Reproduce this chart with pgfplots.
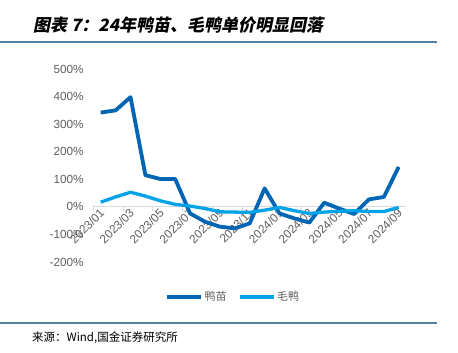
\documentclass[border=0pt]{standalone}
\usepackage{pgfplots}
\pgfplotsset{compat=1.18}
\usepackage{fontspec}
\setmainfont{Liberation Sans}
\newfontfamily\cjk{Noto Sans CJK SC}
\newfontfamily\cjkt[FakeSlant=0.2]{Noto Sans CJK SC}
\definecolor{dk}{RGB}{0,101,179}
\definecolor{lt}{RGB}{0,162,232}
\definecolor{rulec}{RGB}{84,130,160}
\definecolor{tk}{RGB}{95,95,95}
\definecolor{axc}{RGB}{217,217,217}
\begin{document}
\begin{tikzpicture}
\useasboundingbox (0,0) rectangle (458bp,353bp);
\draw[rulec, line width=2bp] (0,311bp) -- (437bp,311bp);
\draw[rulec, line width=2bp] (0,29.7bp) -- (437bp,29.7bp);
\node[anchor=west, inner sep=0] at (33bp,328bp) {\fontsize{17bp}{19bp}\cjkt\bfseries 图表\ 7：24年鸭苗、毛鸭单价明显回落};
\node[anchor=west, inner sep=0] at (32bp,15bp) {\fontsize{11.5bp}{13bp}\cjk 来源：Wind,国金证券研究所};
\begin{axis}[
 at={(93.25bp,91bp)}, anchor=south west, scale only axis,
 width=312.95bp, height=193bp,
 xmin=-0.5, xmax=20.5, ymin=-200, ymax=500,
 axis x line=middle, axis y line=left,
 y axis line style={draw=none},
 x axis line style={-, draw=axc, line width=1.2bp},
 hide obscured y ticks=false, hide obscured x ticks=false,
 xtick={0,2,...,20},
 xticklabels={2023/01,2023/03,2023/05,2023/07,2023/09,2023/11,2024/01,2024/03,2024/05,2024/07,2024/09},
 minor xtick={-0.5,1.5,...,19.5},
 major tick length=0pt, minor tick length=4bp, tick align=outside,
 minor tick style={draw=axc, line width=1bp},
 ytick={-200,-100,...,500},
 yticklabels={-200\%,-100\%,0\%,100\%,200\%,300\%,400\%,500\%},
 ytick style={draw=none},
 ticklabel style={font=\fontsize{11.8bp}{13bp}\selectfont, text=tk},
 yticklabel style={anchor=east, xshift=-6bp},
 xticklabel style={rotate=45, anchor=east, xshift=1.5bp, yshift=-4bp},
 clip=false,
 legend style={at={(0.4466,-0.181)}, anchor=center, draw=none, fill=none,
   legend columns=2, font=\fontsize{11bp}{13bp}\cjk, text=tk,
   /tikz/every even column/.append style={column sep=10bp},
   nodes={inner sep=1.5bp}},
 legend image code/.code={\draw[#1, line width=3.5bp] (0,0) -- (34bp,0);},
]
\addplot[dk, line width=3.8bp, line join=round] coordinates {
(0,342)(1,350)(2,398)(3,115)(4,101)(5,101)(6,-24)(7,-54)(8,-72)(9,-78)(10,-60)
(11,67)(12,-24)(13,-42)(14,-57)(15,15)(16,-6)(17,-26)(18,27)(19,36)(20,145)};
\addlegendentry{鸭苗}
\addplot[lt, line width=3.3bp, line join=round] coordinates {
(0,17)(1,36)(2,53)(3,39)(4,22)(5,9)(6,3)(7,-6)(8,-18)(9,-19)(10,-20)
(11,-12)(12,-2)(13,-14)(14,-24)(15,-19)(16,-16)(17,-14)(18,-17)(19,-17)(20,-2)};
\addlegendentry{毛鸭}
\end{axis}
\end{tikzpicture}
\end{document}
